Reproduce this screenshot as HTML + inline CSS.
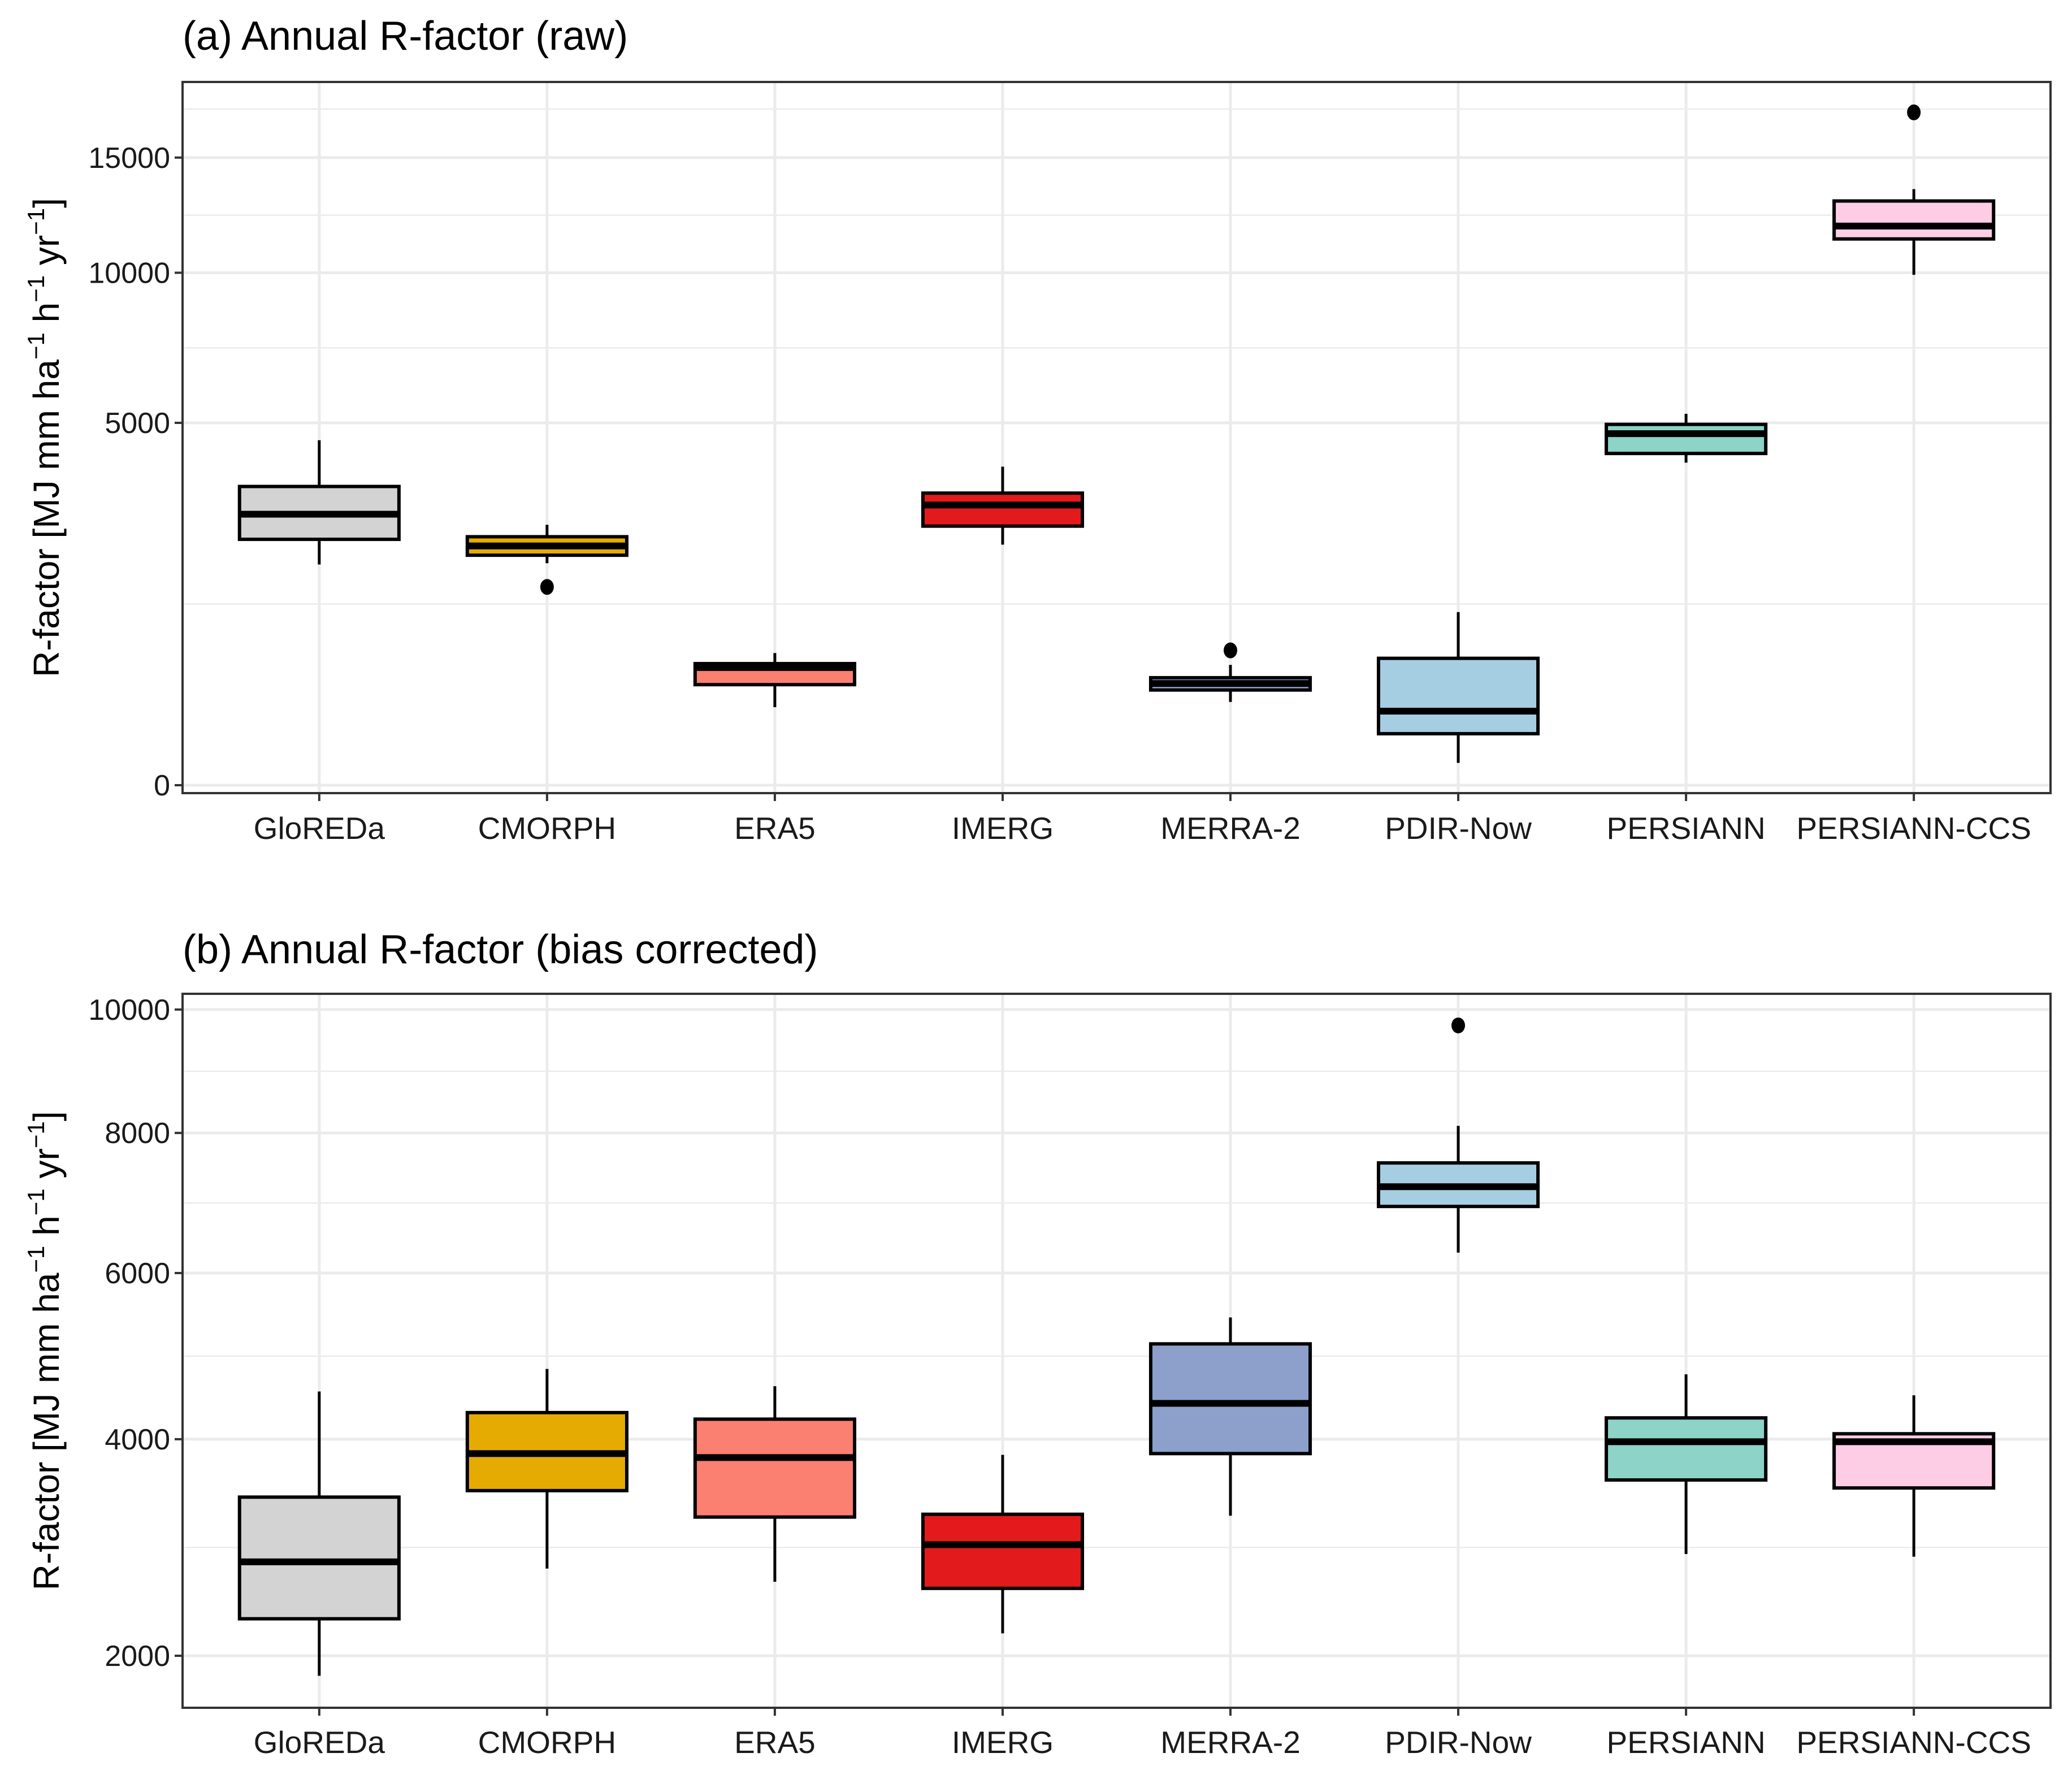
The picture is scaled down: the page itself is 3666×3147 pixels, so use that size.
<!DOCTYPE html>
<html><head><meta charset="utf-8"><style>
html,body{margin:0;padding:0;background:#fff;}
svg{display:block;font-family:"Liberation Sans",Arial,sans-serif;}
</style></head><body>
<svg id="chart" width="3666" height="3147" viewBox="0 0 3666 3147" xmlns="http://www.w3.org/2000/svg">
<rect width="3666" height="3147" fill="#fff"/>
<g id="panelA"></g>
<g id="panelB"></g>
</svg>
<script>
const categories = ["GloREDa","CMORPH","ERA5","IMERG","MERRA-2","PDIR-Now","PERSIANN","PERSIANN-CCS"];
const colors = ["#d3d3d3","#e6ab02","#fb8072","#e31a1c","#8da0cb","#a6cee3","#8dd3c7","#fccde5"];
// Panel (a) raw: whisker low, q1, median, q3, whisker high
const rawLow  = [1855,1877,232,2204,264,19,3962,9920];
const rawQ1   = [2302,2014,385,2556,345,101,4191,11363];
const rawMed  = [2796,2180,527,2990,394,209,4707,11905];
const rawQ3   = [3398,2351,563,3249,440,613,4958,12997];
const rawHigh = [4532,2582,665,3864,551,1141,5253,13530];
const rawOutliers = [[],[1497],[],[],[692],[],[],[17240]];
const rawTicks = [0,5000,10000,15000];
// Panel (b) bias corrected
const bcLow  = [1850,2723,2606,2175,3215,6273,2854,2830];
const bcQ1   = [2293,3463,3202,2549,3846,6915,3571,3490];
const bcMed  = [2783,3846,3804,2940,4397,7199,3973,3973];
const bcQ3   = [3398,4293,4220,3229,5098,7548,4234,4059];
const bcHigh = [4533,4796,4594,3832,5426,8109,4733,4489];
const bcOutliers = [[],[],[],[],[],[9730],[],[]];
const bcTicks = [2000,4000,6000,8000,10000];

const NS="http://www.w3.org/2000/svg";
function mk(parent,tag,attrs,text){const e=document.createElementNS(NS,tag);for(const k in attrs)e.setAttribute(k,attrs[k]);if(text!==undefined)e.textContent=text;parent.appendChild(e);return e;}

const L=323,R=3628;
const step=(R-L)/8.2;
function xPos(i){return L+step*(0.6+i);}

function drawPanel(g,opt){
  const {top,bottom,y,ticks,minors,low,q1,med,q3,high,outs,title,titleY,labelY,prefix}=opt;
  const t=mk(g,'text',{x:L,y:titleY,'font-size':72,fill:'#000'},title);
  
  
  minors.forEach(v=>{const yy=y(v);const l=mk(g,'line',{x1:L,x2:R,y1:yy,y2:yy,stroke:'#ebebeb','stroke-width':2.5});
    });
  ticks.forEach(v=>{const yy=y(v);const l=mk(g,'line',{x1:L,x2:R,y1:yy,y2:yy,stroke:'#ebebeb','stroke-width':5});
    });
  categories.forEach((c,i)=>{const xx=xPos(i);const l=mk(g,'line',{x1:xx,x2:xx,y1:top,y2:bottom,stroke:'#ebebeb','stroke-width':5});
    });
  const bw=step*0.7;
  categories.forEach((c,i)=>{
    const xx=xPos(i);
    const bg=mk(g,'g',{});
    
    
    mk(bg,'line',{x1:xx,x2:xx,y1:y(high[i]),y2:y(q3[i]),stroke:'#000','stroke-width':5});
    mk(bg,'line',{x1:xx,x2:xx,y1:y(q1[i]),y2:y(low[i]),stroke:'#000','stroke-width':5});
    mk(bg,'rect',{x:xx-bw/2,y:y(q3[i]),width:bw,height:Math.max(1,y(q1[i])-y(q3[i])),fill:colors[i],stroke:'#000','stroke-width':6});
    mk(bg,'line',{x1:xx-bw/2,x2:xx+bw/2,y1:y(med[i]),y2:y(med[i]),stroke:'#000','stroke-width':12});
    outs[i].forEach(v=>{const o=mk(bg,'ellipse',{cx:xx,cy:y(v),rx:12,ry:14,fill:'#000'});
      });
    mk(g,'line',{x1:xx,x2:xx,y1:bottom,y2:bottom+14,stroke:'#333','stroke-width':4});
    const lb=mk(g,'text',{x:xx,y:labelY,'font-size':55,'text-anchor':'middle',fill:'#1a1a1a'},c);
    
    
  });
  const br=mk(g,'rect',{x:L,y:top,width:R-L,height:bottom-top,fill:'none',stroke:'#333','stroke-width':4});
  
  ticks.forEach(v=>{const yy=y(v);
    mk(g,'line',{x1:L-14,x2:L,y1:yy,y2:yy,stroke:'#333','stroke-width':4});
    const tl=mk(g,'text',{x:L-22,y:yy+18,'font-size':52,'text-anchor':'end',fill:'#1a1a1a'},String(v));
    });
  const cy=(top+bottom)/2;
  const yt=mk(g,'text',{x:0,y:0,'font-size':64,'text-anchor':'middle',fill:'#000',transform:`translate(104,${cy}) rotate(-90)`});
  
  mk(yt,'tspan',{},'R-factor [MJ mm  ha');
  mk(yt,'tspan',{'font-size':42,dy:-26},'\u22121');
  mk(yt,'tspan',{dy:26},'  h');
  mk(yt,'tspan',{'font-size':42,dy:-26},'\u22121');
  mk(yt,'tspan',{dy:26},'  yr');
  mk(yt,'tspan',{'font-size':42,dy:-26},'\u22121');
  mk(yt,'tspan',{dy:26},']');
}

function midMinors(ticks,extraLo,extraHi,top,bottom,y){
  const s=ticks.map(Math.sqrt);const all=[extraLo,...s,extraHi];const out=[];
  for(let i=0;i<all.length-1;i++){if(all[i]===null||all[i+1]===null)continue;const m=(all[i]+all[i+1])/2;const v=m*m;const yy=y(v);if(yy>top&&yy<bottom)out.push(v);}
  return out;
}

const yA=v=>1389-9.065*Math.sqrt(v);
const yB=v=>2929-20.68*(Math.sqrt(v)-Math.sqrt(2000));
drawPanel(document.getElementById('panelA'),{top:145,bottom:1403,y:yA,ticks:rawTicks,
  minors:midMinors(rawTicks,null,Math.sqrt(20000),145,1403,yA),
  low:rawLow,q1:rawQ1,med:rawMed,q3:rawQ3,high:rawHigh,outs:rawOutliers,
  title:'(a) Annual R-factor (raw)',titleY:88,labelY:1484,prefix:'panel-a'});
drawPanel(document.getElementById('panelB'),{top:1758,bottom:3021,y:yB,ticks:bcTicks,
  minors:midMinors(bcTicks,0,Math.sqrt(12000),1758,3021,yB),
  low:bcLow,q1:bcQ1,med:bcMed,q3:bcQ3,high:bcHigh,outs:bcOutliers,
  title:'(b) Annual R-factor (bias corrected)',titleY:1704,labelY:3101,prefix:'panel-b'});
</script>
</body></html>
